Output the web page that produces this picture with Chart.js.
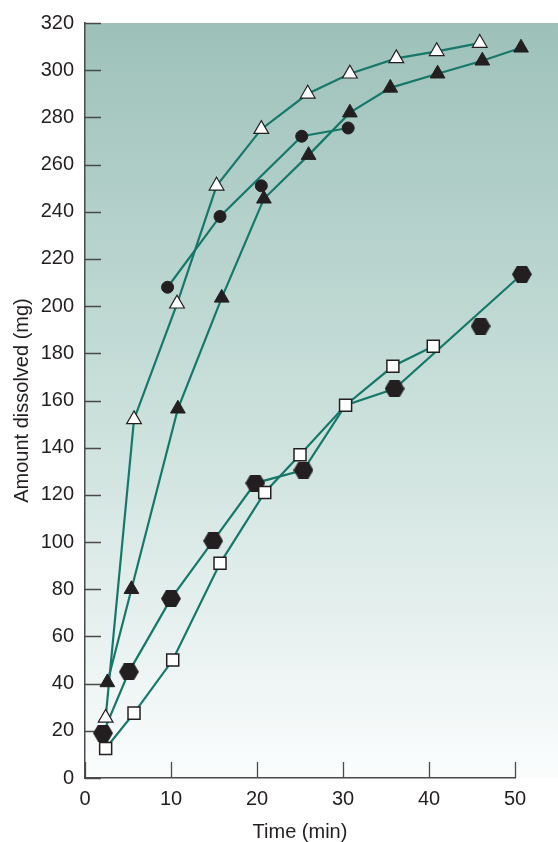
<!DOCTYPE html>
<html>
<head>
<meta charset="utf-8">
<title>Amount dissolved vs time</title>
<script src="https://cdn.jsdelivr.net/npm/chart.js@4.4.1/dist/chart.umd.min.js"></script>
<style>
  html, body { margin: 0; padding: 0; background: #ffffff; }
  #wrap { width: 558px; height: 842px; position: relative; }
</style>
</head>
<body>
<div id="wrap"><canvas id="myChart" width="558" height="842"></canvas></div>
<script>
// values (time in min, amount in mg)
const openTriX = [2.4, 5.7, 10.7, 15.3, 20.5, 25.9, 30.8, 36.2, 40.9, 45.9];
const openTriY = [25.5, 152, 201, 251, 275, 290, 298.5, 305, 308, 311.5];

const fillTriX = [2.6, 5.4, 10.8, 15.9, 20.8, 26.0, 30.8, 35.5, 41.0, 46.2, 50.7];
const fillTriY = [40.5, 80, 156.5, 203.5, 245.5, 264, 282, 292.5, 298.5, 304, 309.5];

const circleX = [9.6, 15.7, 20.5, 25.2, 30.6];
const circleY = [208, 238, 251, 272, 275.5];
// the drawn curve skips the circle at 20.5 min
const circleLineX = [9.6, 15.7, 25.2, 30.6];
const circleLineY = [208, 238, 272, 275.5];

const squareX = [2.4, 5.7, 10.2, 15.7, 20.9, 25.0, 30.3, 35.8, 40.5];
const squareY = [12.5, 27.5, 50, 91, 121, 137, 158, 174.5, 183];

const hexX = [2.1, 5.1, 10.0, 14.9, 19.8, 25.4, 36.0, 46.0, 50.8];
const hexY = [19, 45, 76, 100.5, 125, 130.5, 165, 191.5, 213.5];
// curve through the hexagons (passes the square at 30.3, misses the one at 46)
const hexLineX = [2.1, 5.1, 10.0, 14.9, 19.8, 25.4, 30.3, 36.0, 50.8];
const hexLineY = [19, 45, 76, 100.5, 125, 130.5, 158, 165, 213.5];

const xTicks = [0, 10, 20, 30, 40, 50];
const yTicks = [0, 20, 40, 60, 80, 100, 120, 140, 160, 180, 200, 220, 240, 260, 280, 300, 320];

function pts(xs, ys) {
  return xs.map((x, i) => ({ x: x, y: ys[i] }));
}

document.addEventListener("DOMContentLoaded", function () {
  const canvas = document.getElementById("myChart");
  const ctx = canvas.getContext("2d");

  const lineColor = "#17786a";
  const ink = "#231f20";
  const axisColor = "#4a4a4a";

  // hexagon marker
  const hex = document.createElement("canvas");
  hex.width = 20;
  hex.height = 17;
  const hctx = hex.getContext("2d");
  hctx.fillStyle = ink;
  hctx.beginPath();
  hctx.moveTo(0, 8.5);
  hctx.lineTo(5, 0);
  hctx.lineTo(15, 0);
  hctx.lineTo(20, 8.5);
  hctx.lineTo(15, 17);
  hctx.lineTo(5, 17);
  hctx.closePath();
  hctx.fill();

  // teal -> white panel behind the plot
  const panelBg = {
    id: "panelBg",
    beforeDraw(chart) {
      const { ctx, chartArea } = chart;
      const g = ctx.createLinearGradient(0, chartArea.top, 0, chartArea.bottom);
      g.addColorStop(0, "#9dc1b9");
      g.addColorStop(0.5, "#c9dfda");
      g.addColorStop(1, "#fbfdfd");
      ctx.save();
      ctx.fillStyle = g;
      ctx.fillRect(chartArea.left, chartArea.top, chart.width - chartArea.left, chartArea.bottom - chartArea.top);
      ctx.restore();
    },
  };

  // tick marks pointing into the plot
  const innerTicks = {
    id: "innerTicks",
    beforeDatasetsDraw(chart) {
      const { ctx, chartArea, scales } = chart;
      const len = 16;
      ctx.save();
      ctx.strokeStyle = axisColor;
      ctx.lineWidth = 1.3;
      ctx.beginPath();
      scales.y.ticks.forEach((t) => {
        const py = Math.round(scales.y.getPixelForValue(t.value)) + 0.5;
        ctx.moveTo(chartArea.left, py);
        ctx.lineTo(chartArea.left + len, py);
      });
      scales.x.ticks.forEach((t) => {
        const px = Math.round(scales.x.getPixelForValue(t.value)) + 0.5;
        ctx.moveTo(px, chartArea.bottom);
        ctx.lineTo(px, chartArea.bottom - len);
      });
      ctx.stroke();
      ctx.restore();
    },
  };

  const lineDs = (xs, ys) => ({
    data: pts(xs, ys),
    showLine: true,
    borderColor: lineColor,
    borderWidth: 2.2,
    pointRadius: 0,
    tension: 0,
    clip: false,
    order: 2,
  });

  new Chart(ctx, {
    type: "scatter",
    data: {
      datasets: [
        lineDs(openTriX, openTriY),
        lineDs(fillTriX, fillTriY),
        lineDs(circleLineX, circleLineY),
        lineDs(squareX, squareY),
        lineDs(hexLineX, hexLineY),
        {
          label: "open triangles",
          data: pts(openTriX, openTriY),
          pointStyle: "triangle",
          pointRadius: 8.5,
          backgroundColor: "#ffffff",
          borderColor: ink,
          borderWidth: 1.2,
          clip: false,
          order: 1,
        },
        {
          label: "filled triangles",
          data: pts(fillTriX, fillTriY),
          pointStyle: "triangle",
          pointRadius: 8.5,
          backgroundColor: ink,
          borderColor: ink,
          borderWidth: 1,
          clip: false,
          order: 1,
        },
        {
          label: "circles",
          data: pts(circleX, circleY),
          pointStyle: "circle",
          pointRadius: 6,
          backgroundColor: ink,
          borderColor: ink,
          borderWidth: 1,
          clip: false,
          order: 1,
        },
        {
          label: "squares",
          data: pts(squareX, squareY),
          pointStyle: "rect",
          pointRadius: 8.5,
          backgroundColor: "#ffffff",
          borderColor: ink,
          borderWidth: 1.5,
          clip: false,
          order: 1,
        },
        {
          label: "hexagons",
          data: pts(hexX, hexY),
          pointStyle: hex,
          pointRadius: 10,
          clip: false,
          order: 1,
        },
      ],
    },
    options: {
      responsive: false,
      animation: false,
      layout: {
        padding: { top: 22, right: 43, left: 0, bottom: 0 },
      },
      plugins: {
        legend: { display: false },
        tooltip: { enabled: false },
      },
      scales: {
        x: {
          type: "linear",
          min: 0,
          max: 50,
          afterBuildTicks(scale) {
            scale.ticks = xTicks.map((v) => ({ value: v }));
          },
          afterFit(scale) {
            scale.height = 64;
          },
          grid: { display: true, drawOnChartArea: false, drawTicks: false },
          border: { display: true, color: axisColor, width: 1.5 },
          ticks: {
            padding: 9,
            color: ink,
            font: { family: "'Liberation Sans', Arial, sans-serif", size: 20 },
          },
          title: {
            display: true,
            text: "Time (min)",
            color: ink,
            padding: { top: 0, bottom: 0 },
            font: { family: "'Liberation Sans', Arial, sans-serif", size: 20, lineHeight: 1 },
          },
        },
        y: {
          type: "linear",
          min: 0,
          max: 320,
          afterBuildTicks(scale) {
            scale.ticks = yTicks.map((v) => ({ value: v }));
          },
          afterFit(scale) {
            scale.width = 85;
          },
          grid: { display: true, drawOnChartArea: false, drawTicks: false },
          border: { display: true, color: axisColor, width: 1.5 },
          ticks: {
            padding: 11,
            color: ink,
            font: { family: "'Liberation Sans', Arial, sans-serif", size: 20 },
          },
          title: {
            display: true,
            text: "Amount dissolved (mg)",
            color: ink,
            padding: { top: 10, bottom: 0 },
            font: { family: "'Liberation Sans', Arial, sans-serif", size: 20, lineHeight: 1.2 },
          },
        },
      },
    },
    plugins: [panelBg, innerTicks],
  });
});
</script>
</body>
</html>
